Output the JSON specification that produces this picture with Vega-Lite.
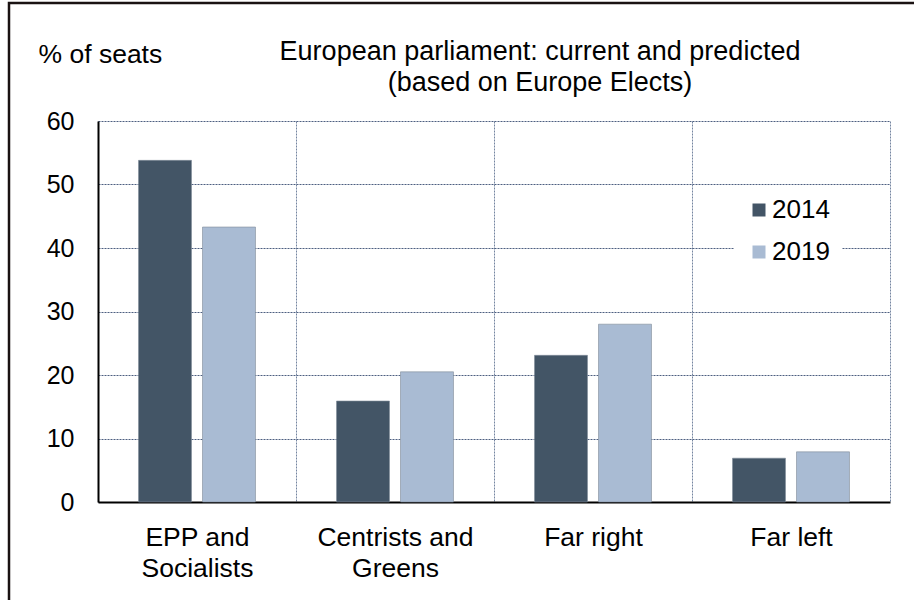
{
  "$schema": "https://vega.github.io/schema/vega-lite/v6.json",
  "width": 792,
  "height": 381,
  "autosize": {"type": "none"},
  "padding": {"left": 98, "top": 121, "right": 24, "bottom": 98},
  "background": "white",
  "config": {
    "font": "Liberation Sans",
    "view": {"stroke": null}
  },
  "title": {
    "text": ["European parliament: current and predicted", "(based on Europe Elects)"],
    "fontSize": 27,
    "fontWeight": "normal",
    "color": "black",
    "anchor": "middle",
    "frame": "group",
    "dx": 46,
    "lineHeight": 31,
    "baseline": "bottom",
    "offset": -122
  },
  "data": {
    "values": [
      {"group": "EPP and Socialists", "year": "2014", "seats": 53.8},
      {"group": "EPP and Socialists", "year": "2019", "seats": 43.3},
      {"group": "Centrists and Greens", "year": "2014", "seats": 15.9},
      {"group": "Centrists and Greens", "year": "2019", "seats": 20.5},
      {"group": "Far right", "year": "2014", "seats": 23.1},
      {"group": "Far right", "year": "2019", "seats": 28.0},
      {"group": "Far left", "year": "2014", "seats": 6.9},
      {"group": "Far left", "year": "2019", "seats": 7.9}
    ]
  },
  "layer": [
    {
      "data": {"values": [{}]},
      "mark": {"type": "rect", "fill": null, "stroke": "#1a1212", "strokeWidth": 2.5, "clip": false},
      "encoding": {
        "x": {"value": -89},
        "y": {"value": -118},
        "x2": {"value": 900},
        "y2": {"value": 560}
      }
    },
    {
      "mark": {"type": "bar", "stroke": "#7f8c99", "strokeWidth": 0.6},
      "encoding": {
        "x": {
          "field": "group",
          "type": "nominal",
          "sort": null,
          "scale": {"paddingInner": 0, "paddingOuter": 0},
          "axis": {
            "title": null,
            "labelAngle": 0,
            "labelFontSize": 26.5,
            "labelColor": "black",
            "labelBaseline": "top",
            "labelPadding": 22,
            "labelLineHeight": 31,
            "labelExpr": "isValid(datum.value) ? split(replace(datum.value, ' and ', ' and|'), '|') : ''",
            "ticks": false,
            "domainColor": "black",
            "domainWidth": 2,
            "grid": true,
            "tickBand": "extent",
            "gridColor": "#7485a0",
            "gridDash": [2, 1],
            "gridWidth": 1
          }
        },
        "xOffset": {
          "field": "year",
          "type": "nominal",
          "scale": {"paddingInner": 0.172, "paddingOuter": 0.633}
        },
        "y": {
          "field": "seats",
          "type": "quantitative",
          "scale": {"domain": [0, 60], "nice": false},
          "axis": {
            "values": [0, 10, 20, 30, 40, 50, 60],
            "labelFontSize": 25,
            "labelColor": "black",
            "labelPadding": 24,
            "ticks": false,
            "domainColor": "black",
            "domainWidth": 2,
            "gridColor": "#4d5f80",
            "gridDash": [2, 1],
            "gridWidth": 1,
            "title": "% of seats",
            "titleAngle": 0,
            "titleAlign": "left",
            "titleBaseline": "alphabetic",
            "titleX": -60,
            "titleY": -59,
            "titleFontSize": 26.5,
            "titleFontWeight": "normal",
            "titleColor": "black"
          }
        },
        "color": {
          "field": "year",
          "type": "nominal",
          "scale": {"range": ["#435566", "#a9bbd3"]},
          "legend": {
            "title": null,
            "orient": "none",
            "legendX": 636,
            "legendY": 64,
            "fillColor": "white",
            "padding": 12,
            "symbolType": "square",
            "symbolSize": 169,
            "symbolStrokeWidth": 0,
            "symbolOpacity": 1,
            "labelFontSize": 26,
            "labelColor": "black",
            "labelOffset": 0,
            "rowPadding": 16
          }
        }
      }
    }
  ]
}
